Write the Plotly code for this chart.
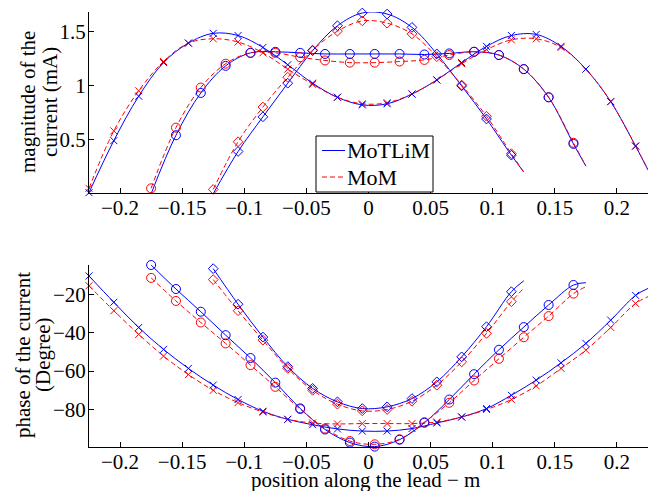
import plotly.graph_objects as go

# ---------------- data ----------------
# lead of half-length 0.225 m (x markers); last point = line end (no marker)
x_cross = [-0.225, -0.205, -0.185, -0.165, -0.145, -0.125, -0.105, -0.085, -0.065, -0.045,
           -0.025, -0.005, 0.015, 0.035, 0.055, 0.075, 0.095, 0.115, 0.135, 0.155,
           0.175, 0.195, 0.215, 0.225]
mag_cross_motlim = [0.01, 0.49, 0.90, 1.21, 1.39, 1.48, 1.46, 1.35, 1.19, 1.02,
                    0.89, 0.82, 0.83, 0.92, 1.05, 1.21, 1.36, 1.46, 1.47, 1.36,
                    1.15, 0.85, 0.44, 0.22]
mag_cross_mom = [0.05, 0.58, 0.95, 1.22, 1.39, 1.43, 1.40, 1.30, 1.15, 1.01,
                 0.89, 0.83, 0.84, 0.92, 1.05, 1.20, 1.33, 1.42, 1.43, 1.35,
                 1.15, 0.85, 0.44, 0.22]
phase_cross_motlim = [-10.5, -24.2, -37.3, -48.7, -58.6, -67.3, -74.8, -80.9, -85.1, -87.9,
                      -90.1, -91.2, -91.2, -89.9, -87.0, -83.9, -79.5, -72.6, -64.7, -55.7,
                      -45.6, -33.5, -20.6, -17.0]
phase_cross_mom = [-15.6, -28.6, -40.9, -52.2, -61.8, -70.0, -76.4, -81.3, -85.1, -87.0,
                   -87.5, -87.3, -87.3, -87.3, -86.5, -83.9, -80.0, -74.8, -67.7, -58.6,
                   -49.1, -37.3, -24.8, -21.3]

# lead of half-length 0.175 m (circle markers)
x_circ = [-0.175, -0.155, -0.135, -0.115, -0.095, -0.075, -0.055, -0.035, -0.015, 0.005,
          0.025, 0.045, 0.065, 0.085, 0.105, 0.125, 0.145, 0.165, 0.175]
mag_circ_motlim = [0.00, 0.54, 0.93, 1.18, 1.30, 1.31, 1.30, 1.29, 1.29, 1.29,
                   1.29, 1.285, 1.295, 1.31, 1.28, 1.15, 0.89, 0.46, 0.255]
mag_circ_mom = [0.05, 0.61, 0.98, 1.20, 1.30, 1.30, 1.26, 1.23, 1.21, 1.21,
                1.22, 1.235, 1.28, 1.31, 1.28, 1.15, 0.89, 0.47, 0.255]
phase_circ_motlim = [-4.8, -17.3, -29.1, -41.3, -53.2, -66.0, -79.4, -90.4, -97.2, -99.3,
                     -95.7, -86.9, -74.8, -61.6, -48.9, -37.1, -25.6, -15.2, -14.0]
phase_circ_mom = [-11.5, -23.5, -34.7, -45.6, -56.9, -68.2, -79.8, -89.9, -96.4, -98.1,
                  -95.5, -86.6, -76.5, -64.9, -53.6, -42.4, -31.4, -19.7, -16.1]

# lead of half-length 0.125 m (diamond markers)
x_dia = [-0.125, -0.105, -0.085, -0.065, -0.045, -0.025, -0.005, 0.015, 0.035, 0.055,
         0.075, 0.095, 0.115, 0.125]
mag_dia_motlim = [0.00, 0.39, 0.71, 1.02, 1.32, 1.55, 1.668, 1.658, 1.535, 1.29,
                  0.995, 0.69, 0.356, 0.20]
mag_dia_mom = [0.04, 0.48, 0.80, 1.075, 1.325, 1.50, 1.595, 1.574, 1.475, 1.265,
               1.003, 0.715, 0.37, 0.20]
phase_dia_motlim = [-6.7, -25.2, -42.3, -57.7, -69.0, -76.0, -79.5, -78.6, -74.3, -65.6,
                    -52.6, -36.9, -18.7, -13.0]
phase_dia_mom = [-12.4, -28.6, -43.9, -58.6, -70.0, -77.2, -80.7, -80.0, -75.7, -67.3,
                 -55.2, -40.4, -23.9, -16.9]

x_tickvals = [-0.2, -0.15, -0.1, -0.05, 0, 0.05, 0.1, 0.15, 0.2]
x_ticktext = ["\u22120.2", "\u22120.15", "\u22120.1", "\u22120.05", "0", "0.05", "0.1", "0.15", "0.2"]
mag_tickvals = [0.5, 1, 1.5]
mag_ticktext = ["0.5", "1", "1.5"]
phase_tickvals = [-80, -60, -40, -20]
phase_ticktext = ["\u221280", "\u221260", "\u221240", "\u221220"]

series_names = ["MoTLiM", "MoM"]
title_mag = ["magnitude of the", "current (mA)"]
title_phase = ["phase of the current", "(Degree)"]
title_x = "position along the lead \u2212 m"

# ---------------- figure ----------------
BLUE = "#0000ff"
RED = "#ff0000"
FONT = "Liberation Serif"
DASH = "5px,3px"

fig = go.Figure()

curves = [
    (x_cross, mag_cross_motlim, mag_cross_mom, phase_cross_motlim, phase_cross_mom, "x-thin", 7),
    (x_circ, mag_circ_motlim, mag_circ_mom, phase_circ_motlim, phase_circ_mom, "circle-open", 9),
    (x_dia, mag_dia_motlim, mag_dia_mom, phase_dia_motlim, phase_dia_mom, "diamond-open", 7.5),
]

for xs, mb, mr, pb, pr, sym, msz in curves:
    for axes, yb, yr in (("1", mb, mr), ("2", pb, pr)):
        xa = "x" if axes == "1" else "x2"
        ya = "y" if axes == "1" else "y2"
        fig.add_trace(go.Scatter(x=xs, y=yb, mode="lines", xaxis=xa, yaxis=ya,
                                 line=dict(color=BLUE, width=1, shape="spline"),
                                 name=series_names[0], showlegend=False))
        fig.add_trace(go.Scatter(x=xs, y=yr, mode="lines", xaxis=xa, yaxis=ya,
                                 line=dict(color=RED, width=1, shape="spline", dash=DASH),
                                 name=series_names[1], showlegend=False))
        for ys, col, nm in ((yr, RED, series_names[1]), (yb, BLUE, series_names[0])):
            fig.add_trace(go.Scatter(x=xs[:-1], y=ys[:-1], mode="markers", xaxis=xa, yaxis=ya,
                                     marker=dict(symbol=sym, size=msz, color=col,
                                                 line=dict(color=col, width=1)),
                                     name=nm, showlegend=False, cliponaxis=False))

axis_common = dict(showline=True, linecolor="black", linewidth=1, ticks="inside",
                   ticklen=5, tickcolor="black", showgrid=False, zeroline=False,
                   mirror=False, automargin=False,
                   tickfont=dict(family=FONT, size=21, color="black"))

# plot area in pixels: x 89..648, y 12..447
def px_x(p):
    return (p - 89) / 559.0

def px_y(p):
    return (447 - p) / 435.0

title_font = dict(family=FONT, size=21, color="black")
annotations = [
    dict(text=title_mag[0], x=px_x(28), y=px_y(102), textangle=-90, xanchor="center"),
    dict(text=title_mag[1], x=px_x(50), y=px_y(102), textangle=-90, xanchor="center"),
    dict(text=title_phase[0], x=px_x(23), y=px_y(355), textangle=-90, xanchor="center"),
    dict(text=title_phase[1], x=px_x(43), y=px_y(355), textangle=-90, xanchor="center"),
    dict(text=title_x, x=px_x(365.5), y=px_y(480.5), textangle=0, xanchor="center"),
    # legend texts
    dict(text=series_names[0], x=px_x(346), y=px_y(150), textangle=0, xanchor="left",
         font=dict(family=FONT, size=22, color="black")),
    dict(text=series_names[1], x=px_x(346), y=px_y(177), textangle=0, xanchor="left",
         font=dict(family=FONT, size=22, color="black")),
]
for a in annotations:
    a.setdefault("font", title_font)
    a.update(xref="paper", yref="paper", yanchor="middle", showarrow=False,
             borderpad=0)

# legend frame and line samples
shapes = [
    dict(type="rect", x0=px_x(316), x1=px_x(433), y0=px_y(192), y1=px_y(136),
         line=dict(color="black", width=1), fillcolor="white", layer="above"),
    dict(type="line", x0=px_x(322), x1=px_x(345), y0=px_y(150.5), y1=px_y(150.5),
         line=dict(color=BLUE, width=1)),
    dict(type="line", x0=px_x(322), x1=px_x(345), y0=px_y(177), y1=px_y(177),
         line=dict(color=RED, width=1, dash=DASH)),
]
for s in shapes:
    s.update(xref="paper", yref="paper")

fig.update_layout(
    width=649, height=491,
    margin=dict(l=89, r=1, t=12, b=44, autoexpand=False),
    paper_bgcolor="white", plot_bgcolor="white",
    font=dict(family=FONT, size=21, color="black"),
    showlegend=False,
    annotations=annotations,
    shapes=shapes,
    xaxis=dict(domain=[0, 1], anchor="y", range=[-0.225, 0.225], ticklabelstandoff=-4,
               tickvals=x_tickvals, ticktext=x_ticktext, **axis_common),
    yaxis=dict(domain=[px_y(193), 1], anchor="x", range=[0.007, 1.677], ticklabelstandoff=-2,
               tickvals=mag_tickvals, ticktext=mag_ticktext, **axis_common),
    xaxis2=dict(domain=[0, 1], anchor="y2", range=[-0.225, 0.225], ticklabelstandoff=-4,
                tickvals=x_tickvals, ticktext=x_ticktext, **axis_common),
    yaxis2=dict(domain=[0, px_y(265)], anchor="x2", range=[-99.5, -4.8], ticklabelstandoff=-2,
                tickvals=phase_tickvals, ticktext=phase_ticktext, **axis_common),
)

fig.write_html("out.html", config={"displayModeBar": False},
               post_script="document.body.style.margin='0';document.body.style.overflow='hidden';")
